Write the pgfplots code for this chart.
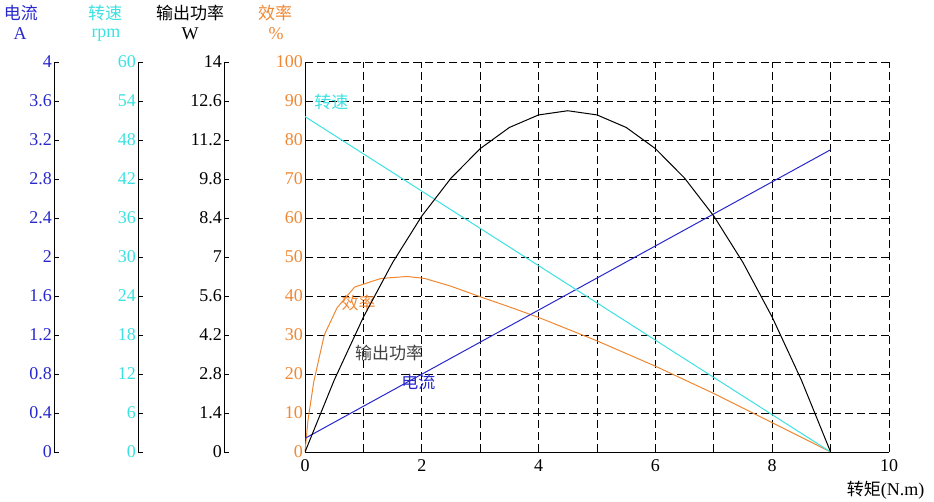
\documentclass[border=0pt]{standalone}
\usepackage{fontspec}
\setmainfont{Liberation Serif}
\newfontfamily\cjk{Noto Sans CJK SC}
\usepackage{pgfplots}
\pgfplotsset{compat=1.18}
\definecolor{cblue}{RGB}{40,40,205}
\definecolor{ccyan}{RGB}{60,225,225}
\definecolor{corange}{RGB}{240,135,50}
\newcommand{\fs}{\fontsize{18}{20}\selectfont}
\newcommand{\cfs}{\cjk\fontsize{17}{20}\selectfont}
\begin{document}
\begin{tikzpicture}
\path[use as bounding box] (0pt,0pt) rectangle (934pt,502pt);
\pgfplotsset{every axis/.append style={scale only axis, height=390pt,
  font=\fs, /pgf/number format/assume math mode=true,
  /pgf/number format/fixed, yticklabel style={inner sep=1pt, xshift=-1pt}}}
\pgfplotsset{leftax/.style={at={(#1pt,50pt)}, anchor=south west, width=10pt,
  xmin=0, xmax=10, axis x line=none, axis y line*=left, tick align=inside,
  major tick length=5pt, axis line style={line width=0.9pt}, tick style={black, line width=0.9pt}}}
% current axis
\begin{axis}[leftax=54, ymin=0, ymax=4, ytick={0,0.4,0.8,1.2,1.6,2,2.4,2.8,3.2,3.6,4},
  yticklabels={0,0.4,0.8,1.2,1.6,2,2.4,2.8,3.2,3.6,4}, yticklabel style={text=cblue}]
\end{axis}
% speed axis
\begin{axis}[leftax=138, ymin=0, ymax=60, ytick={0,6,...,60}, yticklabel style={text=ccyan}]
\end{axis}
% power axis
\begin{axis}[leftax=224, ymin=0, ymax=14, ytick={0,1.4,2.8,4.2,5.6,7,8.4,9.8,11.2,12.6,14},
  yticklabels={0,1.4,2.8,4.2,5.6,7,8.4,9.8,11.2,12.6,14}, yticklabel style={text=black}]
\end{axis}
% main axis (efficiency)
\begin{axis}[at={(305pt,50pt)}, anchor=south west, width=584pt,
  xmin=0, xmax=10, ymin=0, ymax=100,
  xtick={0,2,...,10}, minor xtick={1,3,5,7,9}, ytick={0,10,...,100},
  grid=both, grid style={black, line width=0.8pt, dash pattern=on 8pt off 4pt},
  minor grid style={black, line width=0.8pt, dash pattern=on 8pt off 4pt},
  axis x line*=bottom, axis y line*=left, tick align=inside,
  major tick length=5pt, minor tick length=5pt,
  axis line style={line width=0.9pt}, tick style={black, line width=0.9pt},
  minor tick style={black, line width=0.9pt},
  xticklabel style={yshift=-4pt},
  yticklabel style={text=corange}, clip=false]
\addplot[corange, line width=1pt] coordinates {
 (0,0) (0.05,8) (0.15,18) (0.33,30) (0.55,37) (0.85,42.3) (1.3,44.5) (1.75,45)
 (2.05,44.5) (2.5,42.5) (3,39.8) (3.5,37.2) (4,34.5) (5,28.5) (6,22) (7,15) (8,7.5) (9,0)};
\node[ccyan, font=\cfs] at (axis cs:0.45,89.7) {转速};
\node[corange, font=\cfs] at (axis cs:0.92,38.2) {效率};
\node[black!75, font=\cfs] at (axis cs:1.44,25.4) {输出功率};
\node[cblue, font=\cfs] at (axis cs:1.94,17.9) {电流};
\end{axis}
% data overlays
\begin{axis}[at={(305pt,50pt)}, anchor=south west, width=584pt, hide axis,
  xmin=0, xmax=10, ymin=0, ymax=4]
\addplot[cblue, line width=1pt] coordinates {(0,0.14) (9,3.1)};
\end{axis}
\begin{axis}[at={(305pt,50pt)}, anchor=south west, width=584pt, hide axis,
  xmin=0, xmax=10, ymin=0, ymax=60]
\addplot[ccyan, line width=1pt] coordinates {(0,51.6) (9,0)};
\end{axis}
\begin{axis}[at={(305pt,50pt)}, anchor=south west, width=584pt, hide axis,
  xmin=0, xmax=10, ymin=0, ymax=14]
\addplot[black, line width=1pt] coordinates {
 (0,0) (0.5,2.58) (1,4.84) (1.5,6.80) (2,8.47) (2.5,9.83) (3,10.89) (3.5,11.65)
 (4,12.10) (4.5,12.25) (5,12.10) (5.5,11.65) (6,10.89) (6.5,9.83) (7,8.47)
 (7.5,6.80) (8,4.84) (8.5,2.58) (9,0)};
\end{axis}
% headers
\begin{scope}[font=\fs]
\node[cblue, font=\cfs] at (21pt,489pt) {电流};
\node[cblue] at (20pt,468pt) {A};
\node[ccyan, font=\cfs] at (105pt,489pt) {转速};
\node[ccyan] at (106pt,467pt) {rpm};
\node[black, font=\cfs] at (190pt,489pt) {输出功率};
\node[black] at (190pt,468pt) {W};
\node[corange, font=\cfs] at (275pt,489pt) {效率};
\node[corange] at (276pt,468pt) {\%};
\node[black, anchor=east] at (928pt,12pt) {{\cfs 转矩}(N.m)};
\end{scope}
\end{tikzpicture}
\end{document}
